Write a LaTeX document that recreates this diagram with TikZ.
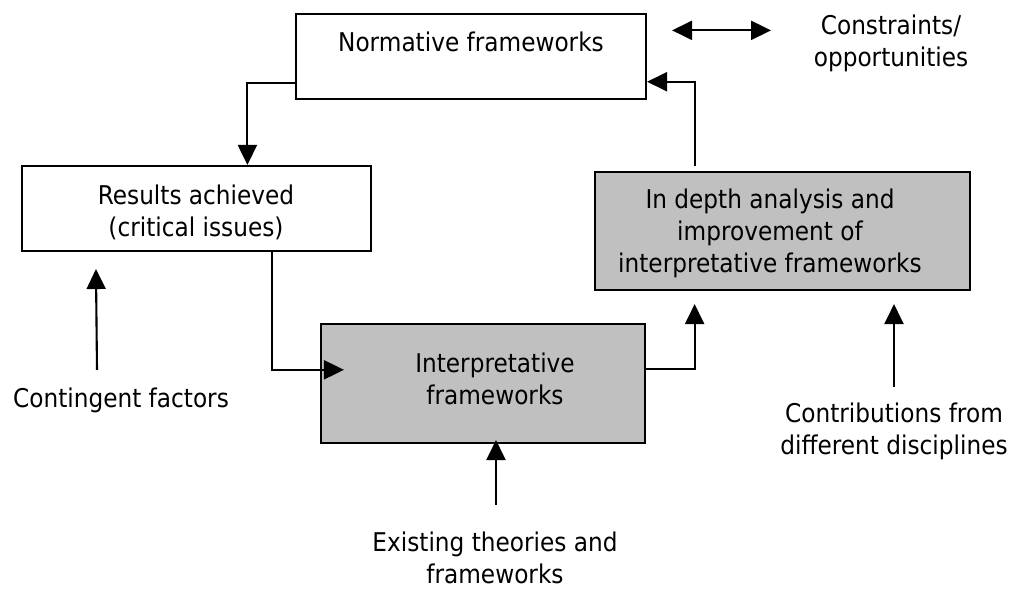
\documentclass[tikz,border=0pt]{standalone}
\usepackage{fontspec}
\setmainfont{DejaVu Sans}[FakeStretch=0.9]
\usetikzlibrary{arrows.meta,calc}
\definecolor{boxgrey}{RGB}{192,192,192}
\begin{document}
\begin{tikzpicture}[x=1pt,y=-1pt,
  frame/.style={draw=black, line width=2.1pt, inner sep=0pt},
  shaded/.style={frame, fill=boxgrey},
  txt/.style={inner sep=0pt, align=center, font=\fontsize{25.8}{32}\selectfont},
  link/.style={line width=2.1pt, -{Triangle[length=20pt,width=19pt]}},
  twoway/.style={line width=2.1pt, {Triangle[length=20pt,width=19pt]}-{Triangle[length=20pt,width=19pt]}}]
\useasboundingbox (0,0) rectangle (1010,593);

% boxes
\node[frame, minimum width=350pt, minimum height=85pt] (norm) at (471,56.5) {};
\node[frame, minimum width=349pt, minimum height=85pt] (res) at (196.5,208.5) {};
\node[shaded, minimum width=375pt, minimum height=118pt] (deep) at (782.5,231) {};
\node[shaded, minimum width=324pt, minimum height=119pt] (interp) at (483,383.5) {};

% box texts
\node[txt] (normtxt) at (471,45.6) {\strut Normative frameworks};
\node[txt] (restxt) at (196,214.6) {\strut Results achieved\\\strut (critical issues)};
\node[txt] (deeptxt) at (770,234.6) {\strut In depth analysis and\\\strut improvement of\\\strut interpretative frameworks};
\node[txt] (interptxt) at (495,382.6) {\strut Interpretative\\\strut frameworks};

% outside labels
\node[txt] (cons) at (891,44.6) {\strut Constraints/\\\strut opportunities};
\node[txt] (contin) at (121,401.6) {\strut Contingent factors};
\node[txt] (exist) at (495,556.8) {\strut Existing theories and\\frameworks};
\node[txt] (contrib) at (894,432.6) {\strut Contributions from\\\strut different disciplines};

% main cycle
\draw[link] ($(norm.south west)!0.2!(norm.north west)$) -| ($(res.north west)!0.645!(res.north east)$);
\draw[link] ($(res.south west)!0.716!(res.south east)$) |- ($(interp.north west)!0.387!(interp.south west)+(24,0)$);
\draw[link] ($(interp.north east)!0.378!(interp.south east)$) -| ($(deep.south west)!0.267!(deep.south east)+(0,13)$);
\draw[link] ($(deep.north west)!0.267!(deep.north east)+(0,-5)$) |- ($(norm.south east)!0.21!(norm.north east)$);

% legend arrow
\draw[twoway] ($(norm.north east)!0.2!(norm.south east)+(25,0)$) -- ++(99,0);

% external inputs
\draw[link] ($(contin.north)+(-24,-15.6)$) -- ($(res.south west)+(75,17)$);
\draw[link] ($(exist.north)+(1,-24.6)$) -- ($(interp.south)+(13,-4)$);
\draw[link] ($(contrib.north)+(0,-13.6)$) -- ($(deep.south)+(111.5,13)$);
\end{tikzpicture}
\end{document}
